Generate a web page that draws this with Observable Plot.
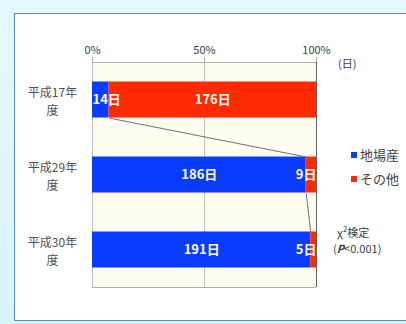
<!DOCTYPE html>
<html><head><meta charset="utf-8">
<script src="https://cdn.jsdelivr.net/npm/d3@7"></script>
<script src="https://cdn.jsdelivr.net/npm/@observablehq/plot@0.6"></script>
<style>
html,body{margin:0;padding:0;}
body{width:406px;height:324px;overflow:hidden;position:relative;
 background:linear-gradient(180deg,#e4f8fb 0%,#d8f5fa 100%);
 font-family:"Noto Sans CJK JP","Noto Sans",sans-serif;}
#panel{position:absolute;left:14px;top:13px;width:420px;height:306px;background:#fff;border:1px solid #5a8ad0;}
#chart{position:absolute;left:0;top:0;}
.note{position:absolute;color:#404040;font-size:11px;line-height:16px;white-space:nowrap;}
.note sup{font-size:8px;line-height:0;vertical-align:5px;}
.leg{position:absolute;left:351px;color:#404040;font-size:13px;line-height:16px;white-space:nowrap;}
.leg i{display:inline-block;width:6px;height:6px;margin-right:3px;vertical-align:2px;}
</style></head>
<body>
<div id="panel"></div>
<div id="chart"></div>
<div class="note" style="left:338px;top:55px;">(日)</div>
<div class="leg" style="top:147px;" id="leg0"></div>
<div class="leg" style="top:171px;" id="leg1"></div>
<div class="note" style="left:337px;top:224px;">χ<sup>2</sup>検定</div>
<div class="note" style="left:333px;top:240px;">(<b><i>P</i></b>&lt;0.001)</div>
<script>
const years = ["平成17年\n度", "平成29年\n度", "平成30年\n度"];
const localDays = [14, 186, 191];
const otherDays = [176, 9, 5];
const seriesNames = ["地場産", "その他"];
const seriesColors = ["#0a3cff", "#ff2a00"];
const xTicks = [0, 50, 100];

const rows = years.map((y, i) => {
  const total = localDays[i] + otherDays[i];
  const p = localDays[i] / total * 100;
  return {i, year: y, local: localDays[i], other: otherDays[i], p};
});
const half = 0.24;
const links = rows.slice(0, -1).map((r, k) => ({x1: r.p, y1: r.i + half, x2: rows[k+1].p, y2: rows[k+1].i - half}));

const segs = [];
rows.forEach(r => {
  segs.push({i: r.i, x1: 0, x2: r.p, s: 0, label: r.local + "日"});
  segs.push({i: r.i, x1: r.p, x2: 100, s: 1, label: r.other + "日"});
});

const chart = Plot.plot({
  width: 406, height: 324,
  marginLeft: 92, marginRight: 90, marginTop: 62, marginBottom: 37,
  style: {background: "transparent", fontFamily: '"Noto Sans CJK JP", sans-serif'},
  x: {domain: [0, 100], axis: null},
  y: {domain: [-0.5, 2.5], reverse: true, axis: null},
  marks: [
    Plot.frame({fill: "#fdfdf0", stroke: null}),
    Plot.ruleX([0, 50], {stroke: "#c0c0c0"}),
    Plot.ruleY([-0.5], {stroke: "#b0b0b0"}),
    Plot.ruleY([2.5], {stroke: "#8fb2de"}),
    Plot.axisX({anchor: "top", ticks: xTicks, tickFormat: d => d + "%", tickSize: 6, tickPadding: 3, fontSize: 11, color: "#404040", stroke: "#b0b0b0"}),
    Plot.rect(segs, {x1: "x1", x2: "x2", y1: d => d.i - half, y2: d => d.i + half, fill: d => seriesColors[d.s]}),
    Plot.ruleX([100], {stroke: "#606060"}),
    Plot.link(links, {x1: "x1", y1: "y1", x2: "x2", y2: "y2", stroke: "#707070", strokeWidth: 1}),
    Plot.text(segs.filter(d => d.x2 - d.x1 > 20), {x: d => (d.x1 + d.x2) / 2, y: "i", text: "label", fill: "white", fontWeight: "bold", fontSize: 13}),
    Plot.text(segs.filter(d => d.x2 - d.x1 <= 20 && d.s === 1), {x: 100, y: "i", text: "label", textAnchor: "end", dx: 0, fill: "white", fontWeight: "bold", fontSize: 13}),
    Plot.text(segs.filter(d => d.x2 - d.x1 <= 20 && d.s === 0), {x: 0, y: "i", text: "label", textAnchor: "start", dx: 0, fill: "white", fontWeight: "bold", fontSize: 13}),
    Plot.text(rows, {y: "i", text: "year", frameAnchor: "left", textAnchor: "middle", dx: -40, fontSize: 12, fill: "#505050", lineHeight: 1.5})
  ]
});
document.getElementById("chart").appendChild(chart);
seriesNames.forEach((n, k) => {
  document.getElementById("leg" + k).innerHTML = `<i style="background:${seriesColors[k]}"></i>${n}`;
});
</script>
</body></html>
